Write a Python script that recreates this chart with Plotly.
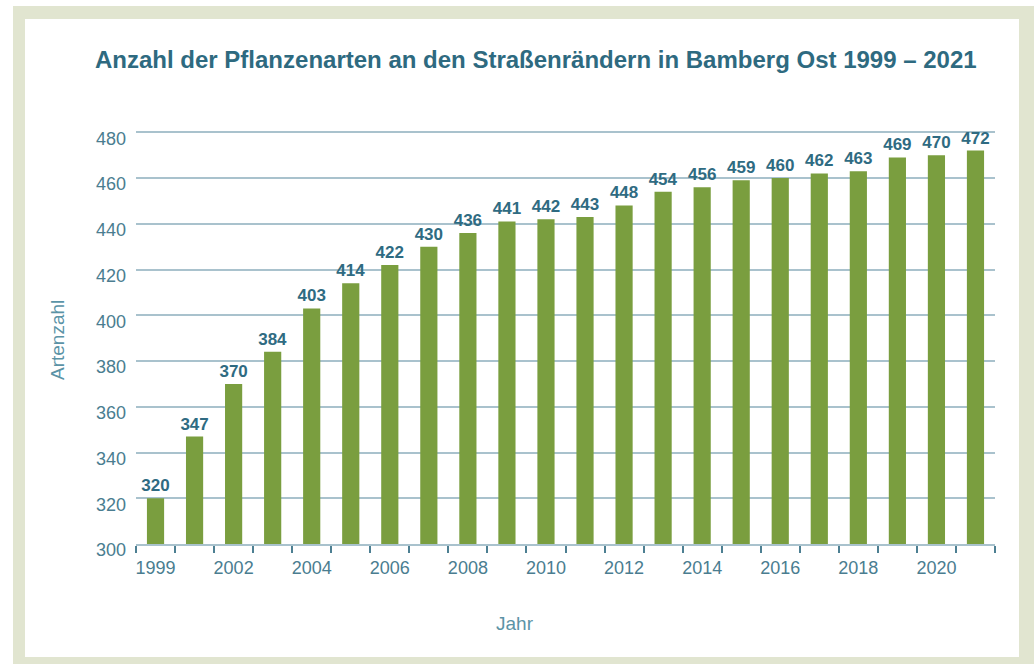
import plotly.graph_objects as go

years = ["1999", "2001", "2002", "2003", "2004", "2005", "2006", "2007", "2008", "2009", "2010",
         "2011", "2012", "2013", "2014", "2015", "2016", "2017", "2018", "2019", "2020", "2021"]
species = [320, 347, 370, 384, 403, 414, 422, 430, 436, 441, 442,
           443, 448, 454, 456, 459, 460, 462, 463, 469, 470, 472]
labeled_years = ["1999", "2002", "2004", "2006", "2008", "2010", "2012", "2014", "2016", "2018", "2020"]
y_ticks = [300, 320, 340, 360, 380, 400, 420, 440, 460, 480]

title_text = "Anzahl der Pflanzenarten an den Straßenrändern in Bamberg Ost 1999 – 2021"

W, H = 1034, 664
L, R, T, B = 136, 39, 130, 120
pw, ph = W - L - R, H - T - B

def px(x):
    return (x - L) / pw

def py(y):
    return (H - B - y) / ph

fig = go.Figure()
fig.add_trace(go.Bar(
    x=years, y=species,
    marker=dict(color="#7a9e3f", line=dict(width=0)),
    text=[str(v) for v in species],
    textposition="outside",
    constraintext="none",
    cliponaxis=False,
    textfont=dict(family="Liberation Sans Narrow, Liberation Sans, Arial", size=17, color="#2f6b82", weight="bold"),
    width=0.44,
))

ticktext = [y if y in labeled_years else "" for y in years]

fig.update_layout(
    width=W, height=H,
    margin=dict(l=L, r=R, t=T, b=B),
    paper_bgcolor="white",
    plot_bgcolor="rgba(0,0,0,0)",
    showlegend=False,
    title=dict(text=title_text, x=95 / W, xref="container", xanchor="left",
               y=1 - 60 / H, yref="container", yanchor="middle",
               font=dict(family="Liberation Sans, Arial", size=24, color="#2e6a80", weight="bold")),
    xaxis=dict(
        type="category",
        tickmode="array", tickvals=years, ticktext=ticktext,
        tickson="boundaries",
        tickangle=0,
        ticks="outside", ticklen=7, tickwidth=1.5, tickcolor="#4d7f92",
        showline=True, linecolor="#a9c2cd", linewidth=2,
        showgrid=False,
        tickfont=dict(family="Liberation Sans, Arial", size=18, color="#4a7d90"),
        ticklabelstandoff=6,
    ),
    yaxis=dict(
        range=[300, 481],
        tickmode="array", tickvals=y_ticks,
        showgrid=True, gridcolor="#a9c2cd", gridwidth=2,
        zeroline=False, showline=False,
        ticks="",
        tickfont=dict(family="Liberation Sans, Arial", size=18, color="#4a7d90"),
        ticklabelstandoff=9,
        ticklabelshift=6,
    ),
    shapes=[
        dict(type="rect", xref="paper", yref="paper", layer="below",
             x0=px(13), x1=px(1040), y0=py(6), y1=py(670),
             fillcolor="#e1e5d0", line=dict(width=0)),
        dict(type="rect", xref="paper", yref="paper", layer="below",
             x0=px(25), x1=px(1019), y0=py(19), y1=py(657),
             fillcolor="white", line=dict(width=0)),
    ],
    annotations=[
        dict(text="Artenzahl", xref="paper", yref="paper", x=px(57), y=py(340),
             textangle=-90, showarrow=False, xanchor="center", yanchor="middle",
             font=dict(family="Liberation Sans, Arial", size=19, color="#5b93a6")),
        dict(text="Jahr", xref="paper", yref="paper", x=px(515), y=py(623),
             showarrow=False, xanchor="center", yanchor="middle",
             font=dict(family="Liberation Sans, Arial", size=19, color="#5b93a6")),
    ],
)

fig.write_html("out.html", config={"displayModeBar": False},
               post_script="document.body.style.margin='0';document.body.style.overflow='hidden';")
